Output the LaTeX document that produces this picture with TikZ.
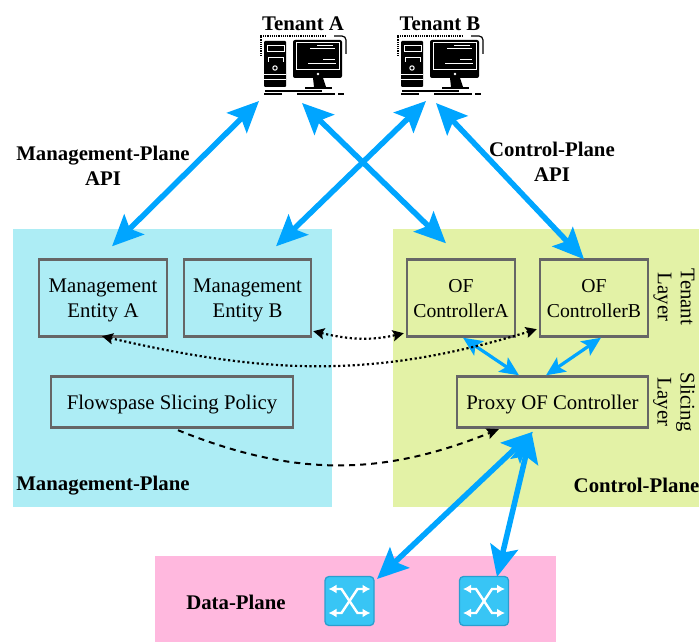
\documentclass[tikz,border=0pt]{standalone}
\usepackage{fontspec}
\setmainfont{Liberation Serif}
\usepackage{xcolor}
\definecolor{mgmtplane}{HTML}{ADEDF5}
\definecolor{ctrlplane}{HTML}{E3F2A6}
\definecolor{dataplane}{HTML}{FFB8DE}
\definecolor{apiblue}{HTML}{00A5FF}
\definecolor{boxgrey}{HTML}{666666}
\definecolor{switchfill}{HTML}{38C5F5}
\definecolor{switchedge}{HTML}{2A9FCF}
\usetikzlibrary{arrows.meta}
\usetikzlibrary{positioning}
\usetikzlibrary{calc}
\tikzset{
    entity/.style={draw=boxgrey, line width=2.4pt, align=center, inner sep=0pt, text depth=0pt, font=\fontsize{20.8}{25}\selectfont},
    controller/.style={entity, font=\fontsize{19.7}{25}\selectfont},
    heading/.style={align=center, inner sep=0pt, font=\fontsize{20.8}{25}\selectfont\bfseries},
    layername/.style={align=center, inner sep=0pt, rotate=-90, font=\fontsize{20.8}{23}\selectfont},
    bigapi/.style={{Stealth[length=31pt,width=28pt,inset=6pt]}-{Stealth[length=31pt,width=28pt,inset=6pt]}, line width=5.5pt, color=apiblue},
    smallapi/.style={{Stealth[length=19pt,width=17pt,inset=4pt]}-{Stealth[length=19pt,width=17pt,inset=4pt]}, line width=3.2pt, color=apiblue},
    mgmtlink/.style={{Stealth[length=11pt,width=11pt,inset=2pt]}-{Stealth[length=11pt,width=11pt,inset=2pt]}, line width=2.2pt, dash pattern=on 2.2pt off 2.6pt, color=black},
    policylink/.style={-{Stealth[length=12pt,width=11pt,inset=2pt]}, line width=2pt, dash pattern=on 6pt off 5pt, color=black},
    pics/computer/.style={code={
        \draw[line width=1.2pt, densely dotted] (-42,13) -- (-42,-7) -- (22,-7);
        \draw[line width=1.2pt] (31,-7) -- (39,-7) to[out=0,in=90] (43,-3) -- (43,11);
        \fill[rounded corners=1pt] (-39,-2) rectangle (-17,44);
        \draw[white, line width=1pt] (-36,3) rectangle (-19,9);
        \draw[white, line width=1pt] (-35,19) -- (-35,15) -- (-20,15) -- (-20,19);
        \draw[white, line width=1pt] (-28,25) circle (2.2);
        \draw[white, line width=1pt] (-39,32) -- (-17,32) (-39,37) -- (-17,37);
        \fill[rounded corners=2pt] (-10,-3) rectangle (39,35);
        \draw[white, line width=1pt] (-7,0) rectangle (36,27);
        \draw[white, line width=1pt] (14,3) -- (30,3) (7,6) -- (32,6) (20,17) -- (32,17) (5,21) -- (33,21);
        \fill[white] (15,31) circle (1.4);
        \fill (10,35) -- (20,35) -- (23,44) -- (11,44) -- cycle;
        \fill (2,44) rectangle (29,46.5);
        \draw[line width=1.1pt] (-38,48) -- (19,48) (-39,51) -- (-21,51) (-6,51) -- (32,51) (35,51) -- (41,51);
    }},
    pics/ofswitch/.style={code={
        \draw[draw=switchedge, fill=switchfill, line width=1.3pt, rounded corners=4pt] (-24.5,-24.5) rectangle (24.5,24.5);
        \draw[white, line width=2.4pt, {Latex[length=8pt,width=9pt]}-{Latex[length=8pt,width=9pt]}] (-21,-12) -- (-8,-12) -- (8,12) -- (21,12);
        \draw[white, line width=2.4pt, {Latex[length=8pt,width=9pt]}-{Latex[length=8pt,width=9pt]}] (21,-12) -- (8,-12) -- (-8,12) -- (-21,12);
    }},
}
\begin{document}
\begin{tikzpicture}[x=1pt, y=-1pt]
    \useasboundingbox (0,0) rectangle (699,642);

    % planes
    \fill[mgmtplane] (13,229) rectangle (332,507);
    \fill[ctrlplane] (393,229) rectangle (699,507);
    \fill[dataplane] (155,556) rectangle (556,642);

    % tenants
    \node[heading] (tenantA) at (303,24) {Tenant A};
    \node[heading] (tenantB) at (440,24) {Tenant B};
    \pic at (303,43) {computer};
    \pic at (440,43) {computer};
    \coordinate (tenantAleft) at (259,101);
    \coordinate (tenantAright) at (302,103);
    \coordinate (tenantBleft) at (426,101);
    \coordinate (tenantBright) at (436,103);

    % boxes
    \node[entity, minimum width=128pt, minimum height=77pt] (mgmtA) at (103,298) {Management\\Entity A};
    \node[entity, minimum width=127pt, minimum height=77pt] (mgmtB) at (247.5,298) {Management\\Entity B};
    \node[entity, minimum width=242pt, minimum height=51pt] (policy) at (172,402) {Flowspase Slicing Policy};
    \node[controller, minimum width=108pt, minimum height=77pt] (ctrlA) at (461,298) {OF\\ControllerA};
    \node[controller, minimum width=108pt, minimum height=77pt] (ctrlB) at (594,298) {OF\\ControllerB};
    \node[entity, minimum width=191pt, minimum height=51pt] (proxy) at (552.5,402) {Proxy OF Controller};

    % switches
    \pic at (349.5,601) {ofswitch};
    \pic at (484,601) {ofswitch};
    \coordinate (switchA) at (377,579);
    \coordinate (switchB) at (497,577);

    % labels
    \node[heading] (mgmtapi) at (103,166) {Management-Plane\\API};
    \node[heading] (ctrlapi) at (552,162) {Control-Plane\\API};
    \node[heading] (mgmtname) at (103,486) {Management-Plane};
    \node[heading, anchor=east] (ctrlname) at (699.5,485) {Control-Plane};
    \node[heading] (dataname) at (236,602) {Data-Plane};
    \node[layername] (tenantlayer) at (674,297) {Tenant\\Layer};
    \node[layername] (slicinglayer) at (674,402) {Slicing\\Layer};

    % api arrows
    \draw[bigapi] (tenantAleft) -- ([xshift=9pt,yshift=12pt]mgmtA.north);
    \draw[bigapi] (tenantBleft) -- ([xshift=28.5pt,yshift=12pt]mgmtB.north);
    \draw[bigapi] (tenantAright) -- ([xshift=-15pt,yshift=15pt]ctrlA.north);
    \draw[bigapi] (tenantBright) -- ([xshift=-10pt,yshift=-1pt]ctrlB.north);
    \draw[bigapi] ([xshift=-19.5pt,yshift=-3pt]proxy.south) -- (switchA);
    \draw[bigapi] ([xshift=-21pt,yshift=-3pt]proxy.south) -- (switchB);
    \draw[smallapi] ([xshift=2pt]ctrlA.south) -- ([xshift=-33.5pt]proxy.north);
    \draw[smallapi] ([xshift=7pt]ctrlB.south) -- ([xshift=-6.5pt]proxy.north);

    % mgmt channels
    \draw[mgmtlink] ([xshift=1pt,yshift=6.5pt]mgmtB.south east) to[out=-13,in=193] ([xshift=-2pt,yshift=4.5pt]ctrlA.south west);
    \draw[mgmtlink] ([xshift=-1pt,yshift=1.5pt]mgmtA.south) to[out=-13,in=197] ([xshift=-2pt,yshift=8.5pt]ctrlB.south west);
    \draw[policylink] ([xshift=6pt,yshift=-1.5pt]policy.south) to[out=-22,in=202] ([xshift=43pt,yshift=-0.5pt]proxy.south west);
\end{tikzpicture}
\end{document}
